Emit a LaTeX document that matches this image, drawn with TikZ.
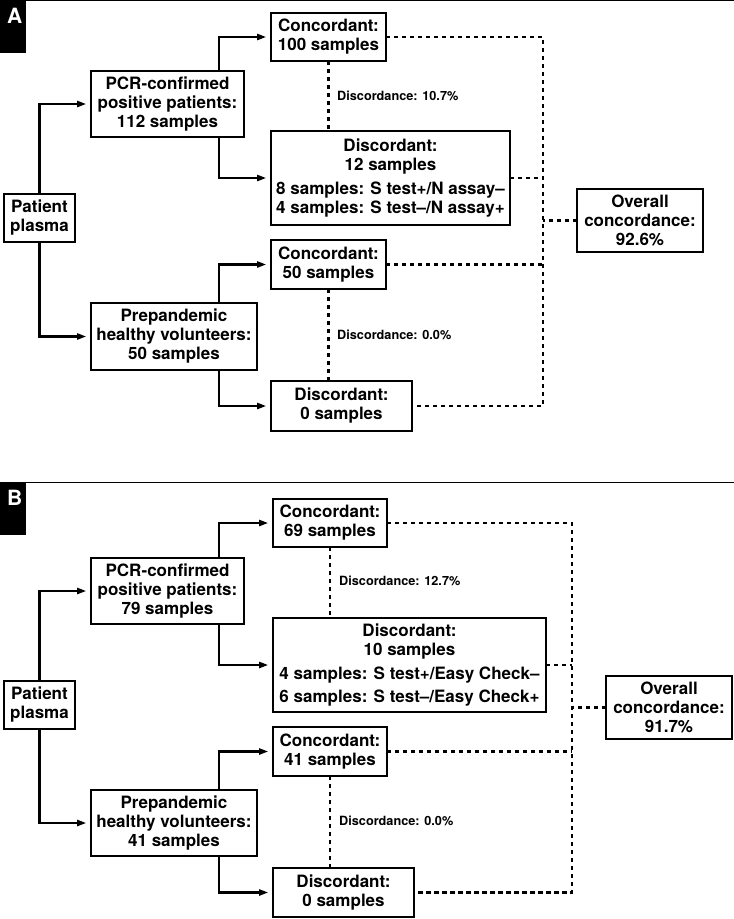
\documentclass[tikz,border=0pt]{standalone}
\usepackage{fontspec}
\setmainfont{TeX Gyre Heros}
\usepackage{tikz}
\usetikzlibrary{arrows.meta,calc}
\tikzstyle{box}=[draw, line width=2.4pt, inner sep=0pt, outer sep=0pt, align=center, font=\fontsize{17}{19}\selectfont\bfseries]
\tikzstyle{arr}=[line width=2.1pt, -{Triangle[length=9pt,width=6pt]}, shorten >=5pt]
\tikzstyle{dashline}=[line width=2.1pt, dash pattern=on 4.5pt off 3.5pt]
\tikzstyle{note}=[anchor=west, inner sep=0pt, font=\fontsize{12.7}{15}\selectfont\bfseries]
\newcommand{\panellabel}[3]{
 \fill (0,#2) rectangle (26,{#2+53});
 \draw[line width=1pt] (26,{#2+0.5}) -- (734,{#2+0.5});
 \node[text=white, anchor=base west, inner sep=0pt, font=\fontsize{21}{21}\selectfont\bfseries] (#3) at (7,{#2+23}) {#1};
}

\begin{document}
\begin{tikzpicture}[x=1pt, y=-1pt]
 \useasboundingbox (0,0) rectangle (734,919);
%
% panel A
 \panellabel{A}{0}{labA}
 \node[box, minimum width=70.6pt, minimum height=47.6pt] (plasmaA) at (39.5,218) {Patient\\plasma};
 \node[box, minimum width=152.6pt, minimum height=65.6pt] (pcrA) at (167.5,104) {PCR-confirmed\\positive patients:\\112 samples};
 \node[box, minimum width=165.6pt, minimum height=66.6pt] (prepA) at (174,336.5) {Prepandemic\\healthy volunteers:\\50 samples};
 \node[box, minimum width=114.6pt, minimum height=47.6pt] (concA1) at (328.5,37) {Concordant:\\100 samples};
 \node[box, minimum width=238.6pt, minimum height=93.6pt] (discA1) at (390.5,178) {Discordant:\\12 samples\\[5pt]8 samples: S test+/N assay\textendash\\4 samples: S test\textendash/N assay+};
 \node[box, minimum width=114.6pt, minimum height=48.6pt] (concA2) at (328.5,264.5) {Concordant:\\50 samples};
 \node[box, minimum width=140.6pt, minimum height=49.6pt] (discA2) at (341.5,406) {Discordant:\\0 samples};
 \node[box, minimum width=125.6pt, minimum height=62.6pt] (overA) at (640,220.5) {Overall\\concordance:\\92.6\%};
 \coordinate (splitA) at (219,0);
 \coordinate (busA) at (543,0);
 \draw[arr] (plasmaA.north) |- (pcrA.west);
 \draw[arr] (plasmaA.south) |- (prepA.west);
 \draw[arr] (pcrA.north -| splitA) |- (concA1.west);
 \draw[arr] (pcrA.south -| splitA) |- (discA1.west);
 \draw[arr] (prepA.north -| splitA) |- (concA2.west);
 \draw[arr] (prepA.south -| splitA) |- (discA2.west);
 \draw[dashline] (concA1.south) -- (concA1.south |- discA1.north);
 \node[note] (noteA1) at (337,96) {Discordance: 10.7\%};
 \draw[dashline] (concA2.south) -- (concA2.south |- discA2.north);
 \node[note] (noteA2) at (337,335) {Discordance: 0.0\%};
 \draw[dashline] (concA1.east) -- (concA1.east -| busA) -- (discA2.east -| busA) -- (discA2.east);
 \draw[dashline] (discA1.east) -- (discA1.east -| busA);
 \draw[dashline] (concA2.east) -- (concA2.east -| busA);
 \draw[dashline] (overA.west) -- (overA.west -| busA);
%
% panel B
 \panellabel{B}{482}{labB}
 \node[box, minimum width=70.6pt, minimum height=47.6pt] (plasmaB) at (39.5,705) {Patient\\plasma};
 \node[box, minimum width=152.6pt, minimum height=65.6pt] (pcrB) at (167.5,591) {PCR-confirmed\\positive patients:\\79 samples};
 \node[box, minimum width=165.6pt, minimum height=65.6pt] (prepB) at (174,823) {Prepandemic\\healthy volunteers:\\41 samples};
 \node[box, minimum width=113.6pt, minimum height=47.6pt] (concB1) at (330,523) {Concordant:\\69 samples};
 \node[box, minimum width=272.6pt, minimum height=93.6pt] (discB1) at (409.5,665) {Discordant:\\10 samples\\[5pt]4 samples: S test+/Easy Check\textendash\\[4pt]6 samples: S test\textendash/Easy Check+};
 \node[box, minimum width=113.6pt, minimum height=48.6pt] (concB2) at (330,751.5) {Concordant:\\41 samples};
 \node[box, minimum width=140.6pt, minimum height=48.6pt] (discB2) at (343.5,892.5) {Discordant:\\0 samples};
 \node[box, minimum width=125.6pt, minimum height=62.6pt] (overB) at (669,707.5) {Overall\\concordance:\\91.7\%};
 \coordinate (splitB) at (219,0);
 \coordinate (busB) at (572,0);
 \draw[arr] (plasmaB.north) |- (pcrB.west);
 \draw[arr] (plasmaB.south) |- (prepB.west);
 \draw[arr] (pcrB.north -| splitB) |- (concB1.west);
 \draw[arr] (pcrB.south -| splitB) |- (discB1.west);
 \draw[arr] (prepB.north -| splitB) |- (concB2.west);
 \draw[arr] (prepB.south -| splitB) |- (discB2.west);
 \draw[dashline] (concB1.south) -- (concB1.south |- discB1.north);
 \node[note] (noteB1) at (339,581) {Discordance: 12.7\%};
 \draw[dashline] (concB2.south) -- (concB2.south |- discB2.north);
 \node[note] (noteB2) at (339,821) {Discordance: 0.0\%};
 \draw[dashline] (concB1.east) -- (concB1.east -| busB) -- (discB2.east -| busB) -- (discB2.east);
 \draw[dashline] (discB1.east) -- (discB1.east -| busB);
 \draw[dashline] (concB2.east) -- (concB2.east -| busB);
 \draw[dashline] (overB.west) -- (overB.west -| busB);
\end{tikzpicture}
\end{document}
